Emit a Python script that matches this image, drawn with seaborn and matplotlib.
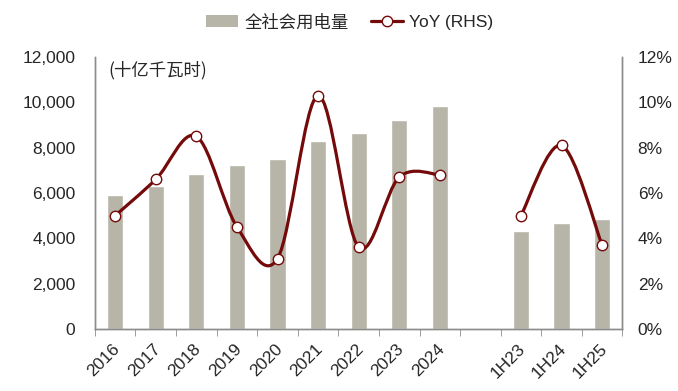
import matplotlib
matplotlib.use('Agg')
import matplotlib.pyplot as plt
import matplotlib.transforms as mtransforms
from matplotlib.path import Path
from matplotlib.patches import PathPatch
from matplotlib.lines import Line2D
from matplotlib.patches import Patch
import numpy as np
import pandas as pd
import seaborn as sns

# data
periods = ['2016', '2017', '2018', '2019', '2020', '2021', '2022', '2023', '2024',
           '1H23', '1H24', '1H25']
usage = [5920, 6310, 6840, 7230, 7510, 8310, 8640, 9220, 9850, 4310, 4660, 4840]
yoy = [5.0, 6.6, 8.5, 4.5, 3.1, 10.3, 3.6, 6.7, 6.8, 5.0, 8.1, 3.7]
order = periods[:9] + [' '] + periods[9:]

bar_color = '#b7b5a7'
line_color = '#750a0a'

sns.set_style('white')
plt.rcParams['font.family'] = ['Liberation Sans', 'Noto Sans CJK SC', 'DejaVu Sans']

fig = plt.figure(figsize=(6.78, 3.91), dpi=100)
ax = fig.add_axes([0.140, 0.159, 0.778, 0.695])

df = pd.DataFrame({'period': periods, 'usage': usage})
sns.barplot(data=df, x='period', y='usage', order=order, color=bar_color,
            width=0.4, saturation=1, ax=ax)
ax.set_xlim(-0.5, len(order) - 0.5)
ax.set_ylim(0, 12000)
ax.set_yticks(range(0, 12001, 2000))
ax.set_yticklabels([f'{v:,}' for v in range(0, 12001, 2000)])
ax.set_xlabel('')
ax.set_ylabel('')

ax2 = ax.twinx()
ax2.set_ylim(0, 12)
ax2.set_yticks(range(0, 13, 2))
ax2.set_yticklabels([f'{v}%' for v in range(0, 13, 2)])


def smooth_path(xs, ys):
    # Excel-style smoothed line: cubic Bezier with Catmull-Rom control points
    pts = np.column_stack([xs, ys]).astype(float)
    n = len(pts)
    verts = [pts[0]]
    codes = [Path.MOVETO]
    for i in range(n - 1):
        p0 = pts[max(i - 1, 0)]
        p1 = pts[i]
        p2 = pts[i + 1]
        p3 = pts[min(i + 2, n - 1)]
        c1 = p1 + (p2 - p0) / 6
        c2 = p2 - (p3 - p1) / 6
        verts += [c1, c2, p2]
        codes += [Path.CURVE4] * 3
    return Path(verts, codes)


xpos = [order.index(p) for p in periods]
for seg in (slice(0, 9), slice(9, 12)):
    path = smooth_path(xpos[seg], yoy[seg])
    ax2.add_patch(PathPatch(path, facecolor='none', edgecolor=line_color, lw=2.3, zorder=3))
ax2.plot(xpos, yoy, linestyle='none', marker='o', markersize=7.5,
         markerfacecolor='white', markeredgecolor=line_color, markeredgewidth=1, zorder=4)

# axes styling
for a in (ax, ax2):
    a.spines['top'].set_visible(False)
    for s in ('left', 'right', 'bottom'):
        a.spines[s].set_color('#8c8c8c')
        a.spines[s].set_linewidth(1)
ax.tick_params(axis='y', length=0, labelsize=12.5, pad=14)
ax2.tick_params(axis='y', length=0, labelsize=12.5, pad=11)

ax.set_xticks(range(len(order)))
ax.set_xticklabels(order, rotation=45, ha='right', rotation_mode='anchor')
ax.set_xticks(np.arange(-0.5, len(order), 1), minor=True)
ax.tick_params(axis='x', which='major', length=0, labelsize=12.5, pad=9)
ax.tick_params(axis='x', which='minor', length=5, color='#8c8c8c', bottom=True)
shift = mtransforms.ScaledTranslation(-3 / 100, 0, fig.dpi_scale_trans)
for lbl in ax.get_xticklabels():
    lbl.set_transform(lbl.get_transform() + shift)

ax.text(0.025, 0.985, '(十亿千瓦时)', transform=ax.transAxes, fontsize=12.5,
        va='top', ha='left', family=['Noto Sans CJK SC', 'DejaVu Sans'])

handles = [Patch(facecolor=bar_color, edgecolor='none'),
           Line2D([], [], color=line_color, lw=2.3, marker='o', markersize=7.5,
                  markerfacecolor='white', markeredgecolor=line_color)]
fig.legend(handles, ['全社会用电量', 'YoY (RHS)'], loc='center', bbox_to_anchor=(0.516, 0.943),
           ncol=2, frameon=False, handlelength=1.85, handletextpad=0.35, columnspacing=1.3,
           prop={'family': ['Liberation Sans', 'Noto Sans CJK SC'], 'size': 12.5})

fig.savefig('out.png', dpi=100)
